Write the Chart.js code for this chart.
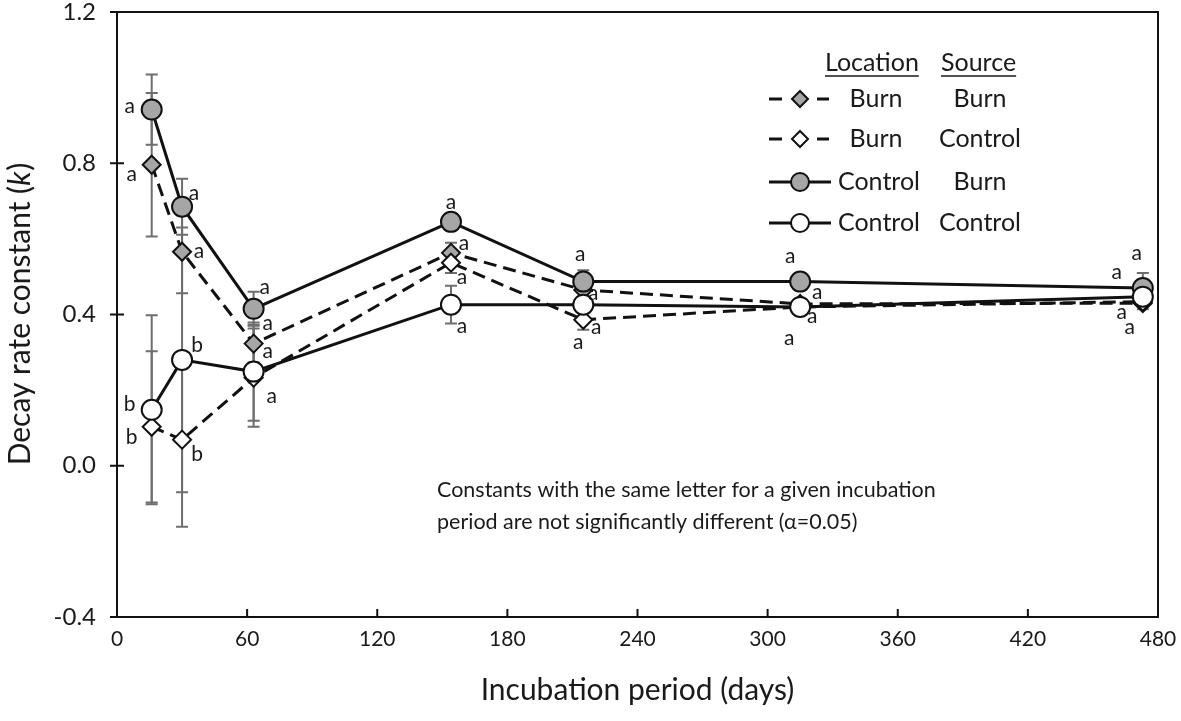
<!DOCTYPE html>
<html>
<head>
<meta charset="utf-8">
<script src="https://cdn.jsdelivr.net/npm/chart.js@4"></script>
<style>
  body { margin: 0; background: #fff; }
  #wrap { width: 1181px; height: 721px; position: relative; }
</style>
</head>
<body>
<div id="wrap"><canvas id="chart"></canvas></div>
<script>
// incubation days
const days = [16, 30, 63, 154, 215, 315, 473];

// decay rate constant k, by location / source
const burnBurn       = [0.796, 0.566, 0.323, 0.563, 0.465, 0.428, 0.430];
const burnControl    = [0.103, 0.069, 0.233, 0.537, 0.386, 0.420, 0.434];
const controlBurn    = [0.942, 0.685, 0.415, 0.645, 0.487, 0.487, 0.470];
const controlControl = [0.148, 0.280, 0.249, 0.426, 0.426, 0.420, 0.447];

// +/- error
const burnBurnErr       = [0.19, 0.11, 0.05, 0.027, 0, 0, 0];
const burnControlErr    = [0.20, 0.23, 0.13, 0.027, 0.026, 0, 0.02];
const controlBurnErr    = [0.093, 0.074, 0.045, 0, 0.03, 0, 0.04];
const controlControlErr = [0.25, 0.35, 0.13, 0.05, 0, 0, 0];

// significance letters
const burnBurnLetters       = ['a', 'a', 'a', 'a', 'a', 'a', 'a'];
const burnControlLetters    = ['b', 'b', 'a', 'a', 'a', 'a', 'a'];
const controlBurnLetters    = ['a', 'a', 'a', 'a', 'a', 'a', 'a'];
const controlControlLetters = ['b', 'b', 'a', 'a', 'a', 'a', 'a'];

const yTicks = [-0.4, 0.0, 0.4, 0.8, 1.2];
const xTicks = [0, 60, 120, 180, 240, 300, 360, 420, 480];

const note = ['Constants with the same letter for a given incubation',
              'period are not significantly different (\u03b1=0.05)'];

const FONT = 'Lato, "Open Sans", sans-serif';
const GRAY = '#a6a6a6';
const INK = '#111';

// letter placement (px offsets from the point)
const letterOffsets = {
  cb: [[-22, -3], [12, -14], [11, -22], [0, -20], [-3, -27], [-10, -25], [-6, -35]],
  bb: [[-20, 9], [17, 0], [14, -20], [13, -10], [10, 3], [17, -12], [-26, -31]],
  cc: [[-22, -6], [15, -15], [14, -20], [11, 22], [13, 23], [12, 9], [-21, 16]],
  bc: [[-20, 10], [15, 15], [18, 19], [11, 15], [-5, 22], [-11, 31], [-13, 26]]
};

function pts(vals) {
  return days.map((d, i) => ({x: d, y: vals[i]}));
}

const datasets = [
  {key: 'cc', data: pts(controlControl), err: controlControlErr, letters: controlControlLetters,
   borderColor: INK, borderWidth: 3, pointStyle: 'circle', pointRadius: 10,
   pointBackgroundColor: '#fff', pointBorderColor: INK, pointBorderWidth: 2},
  {key: 'cb', data: pts(controlBurn), err: controlBurnErr, letters: controlBurnLetters,
   borderColor: INK, borderWidth: 3, pointStyle: 'circle', pointRadius: 10,
   pointBackgroundColor: GRAY, pointBorderColor: INK, pointBorderWidth: 2},
  {key: 'bc', data: pts(burnControl), err: burnControlErr, letters: burnControlLetters,
   borderColor: INK, borderWidth: 3, borderDash: [13, 7], pointStyle: 'rectRot', pointRadius: 9,
   pointBackgroundColor: '#fff', pointBorderColor: INK, pointBorderWidth: 2},
  {key: 'bb', data: pts(burnBurn), err: burnBurnErr, letters: burnBurnLetters,
   borderColor: INK, borderWidth: 3, borderDash: [13, 7], pointStyle: 'rectRot', pointRadius: 9,
   pointBackgroundColor: GRAY, pointBorderColor: INK, pointBorderWidth: 2}
];
datasets.forEach(d => { d.tension = 0; d.fill = false; d.pointHoverRadius = d.pointRadius; });

const errorBars = {
  id: 'errorBars',
  beforeDatasetsDraw(chart) {
    const ctx = chart.ctx, xs = chart.scales.x, ys = chart.scales.y;
    ctx.save();
    ctx.strokeStyle = '#6e6e6e';
    ctx.lineWidth = 2;
    chart.data.datasets.forEach(ds => {
      ds.data.forEach((p, i) => {
        const e = ds.err[i];
        if (!e) return;
        const x = xs.getPixelForValue(p.x);
        const y1 = ys.getPixelForValue(p.y + e), y2 = ys.getPixelForValue(p.y - e);
        ctx.beginPath();
        ctx.moveTo(x, y1); ctx.lineTo(x, y2);
        ctx.moveTo(x - 6, y1); ctx.lineTo(x + 6, y1);
        ctx.moveTo(x - 6, y2); ctx.lineTo(x + 6, y2);
        ctx.stroke();
      });
    });
    ctx.restore();
  }
};

function drawMarker(ctx, style, x, y, r, fill) {
  ctx.beginPath();
  if (style === 'circle') {
    ctx.arc(x, y, r, 0, Math.PI * 2);
  } else {
    ctx.moveTo(x, y - r); ctx.lineTo(x + r, y); ctx.lineTo(x, y + r); ctx.lineTo(x - r, y); ctx.closePath();
  }
  ctx.fillStyle = fill; ctx.fill();
  ctx.lineWidth = 2; ctx.strokeStyle = INK; ctx.stroke();
}

const decor = {
  id: 'decor',
  afterDraw(chart) {
    const ctx = chart.ctx, xs = chart.scales.x, ys = chart.scales.y, a = chart.chartArea;
    ctx.save();
    // frame + ticks
    ctx.strokeStyle = INK;
    ctx.lineWidth = 2;
    ctx.strokeRect(a.left, a.top, a.right - a.left, a.bottom - a.top);
    ctx.beginPath();
    yTicks.forEach(v => {
      const y = ys.getPixelForValue(v);
      ctx.moveTo(a.left - 7, y); ctx.lineTo(a.left + 7, y);
    });
    xTicks.forEach(v => {
      const x = xs.getPixelForValue(v);
      ctx.moveTo(x, a.bottom); ctx.lineTo(x, a.bottom - 8);
    });
    ctx.stroke();

    // letters
    ctx.fillStyle = '#1a1a1a';
    ctx.font = '21px ' + FONT;
    ctx.textAlign = 'center';
    ctx.textBaseline = 'middle';
    chart.data.datasets.forEach(ds => {
      const offs = letterOffsets[ds.key];
      ds.data.forEach((p, i) => {
        const x = xs.getPixelForValue(p.x) + offs[i][0];
        const y = ys.getPixelForValue(p.y) + offs[i][1];
        ctx.fillText(ds.letters[i], x, y);
      });
    });

    // note
    ctx.textAlign = 'left';
    ctx.font = '21.5px ' + FONT;
    ctx.fillText(note[0], 437, 490);
    ctx.fillText(note[1], 437, 522);

    // legend
    ctx.font = '25px ' + FONT;
    ctx.fillText('Location', 825, 63);
    ctx.fillText('Source', 941, 63);
    ctx.lineWidth = 1.5;
    ctx.strokeStyle = '#1a1a1a';
    ctx.beginPath();
    ctx.moveTo(825, 76); ctx.lineTo(825 + ctx.measureText('Location').width, 76);
    ctx.moveTo(941, 76); ctx.lineTo(941 + ctx.measureText('Source').width, 76);
    ctx.stroke();
    const rows = [
      {y: 99, dash: true, style: 'rectRot', fill: GRAY, loc: 'Burn', src: 'Burn'},
      {y: 139, dash: true, style: 'rectRot', fill: '#fff', loc: 'Burn', src: 'Control'},
      {y: 182, dash: false, style: 'circle', fill: GRAY, loc: 'Control', src: 'Burn'},
      {y: 223, dash: false, style: 'circle', fill: '#fff', loc: 'Control', src: 'Control'}
    ];
    rows.forEach(r => {
      ctx.strokeStyle = INK;
      ctx.lineWidth = 3;
      ctx.beginPath();
      if (r.dash) {
        ctx.moveTo(769, r.y); ctx.lineTo(782, r.y);
        ctx.moveTo(817, r.y); ctx.lineTo(829, r.y);
      } else {
        ctx.moveTo(769, r.y); ctx.lineTo(831, r.y);
      }
      ctx.stroke();
      drawMarker(ctx, r.style, 800, r.y, r.style === 'circle' ? 9 : 8, r.fill);
      ctx.fillStyle = '#1a1a1a';
      ctx.textAlign = 'center';
      ctx.fillText(r.loc, r.loc === 'Burn' ? 876 : 879, r.y);
      ctx.fillText(r.src, 980, r.y);
    });

    // axis titles
    ctx.font = '30px ' + FONT;
    ctx.textAlign = 'center';
    ctx.fillText('Incubation period (days)', (a.left + a.right) / 2, 690);

    ctx.translate(20, (a.top + a.bottom) / 2);
    ctx.rotate(-Math.PI / 2);
    ctx.textAlign = 'left';
    const p1 = 'Decay rate constant (', p3 = ')';
    ctx.font = '30px ' + FONT;
    const w1 = ctx.measureText(p1).width, w3 = ctx.measureText(p3).width;
    ctx.font = 'italic 30px ' + FONT;
    const w2 = ctx.measureText('k').width;
    let sx = -(w1 + w2 + w3) / 2;
    ctx.font = '30px ' + FONT;
    ctx.fillText(p1, sx, 0);
    ctx.font = 'italic 30px ' + FONT;
    ctx.fillText('k', sx + w1, 0);
    ctx.font = '30px ' + FONT;
    ctx.fillText(p3, sx + w1 + w2 + 1, 0);
    ctx.restore();
  }
};

new Chart('chart', {
  type: 'line',
  data: {datasets: datasets},
  options: {
    responsive: true,
    maintainAspectRatio: false,
    animation: false,
    layout: {padding: {left: 0, top: 12, right: 23, bottom: 0}},
    plugins: {legend: {display: false}, tooltip: {enabled: false}},
    scales: {
      x: {
        type: 'linear', min: 0, max: 480,
        afterFit: s => { s.height = 104; s.paddingLeft = 0; s.paddingRight = 0; },
        afterBuildTicks: s => { s.ticks = xTicks.map(v => ({value: v})); },
        grid: {display: false, drawTicks: false},
        border: {display: false},
        ticks: {color: '#1a1a1a', font: {family: FONT, size: 21}, padding: 10, maxRotation: 0}
      },
      y: {
        min: -0.4, max: 1.2,
        afterFit: s => { s.width = 117; s.paddingTop = 0; s.paddingBottom = 0; },
        afterBuildTicks: s => { s.ticks = yTicks.map(v => ({value: v})); },
        grid: {display: false, drawTicks: false},
        border: {display: false},
        ticks: {color: '#1a1a1a', font: {family: FONT, size: 24}, padding: 21,
                callback: v => v.toFixed(1)}
      }
    }
  },
  plugins: [errorBars, decor]
});
</script>
</body>
</html>
